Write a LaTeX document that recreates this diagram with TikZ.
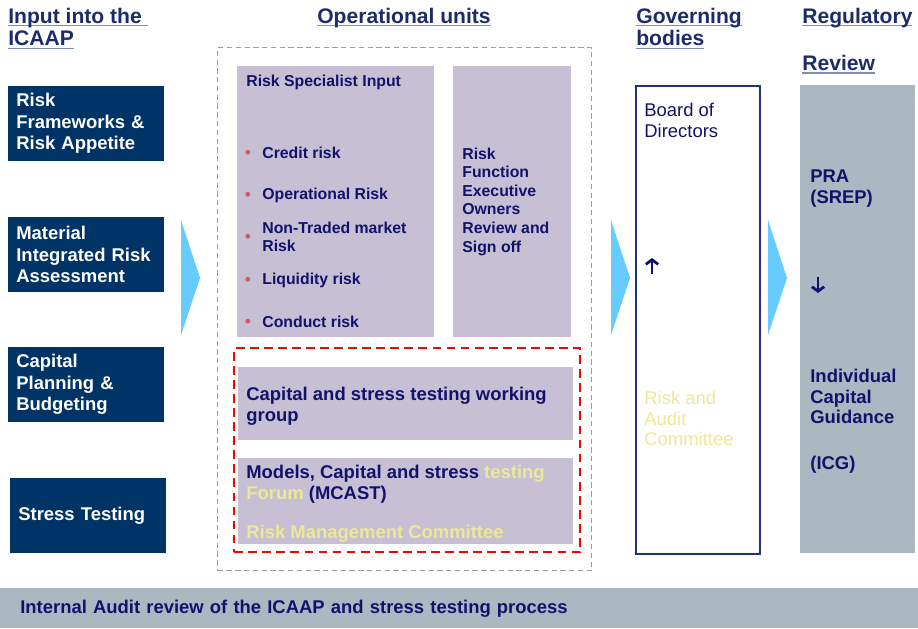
\documentclass[tikz,border=0pt]{standalone}
\usepackage{fontspec}
\setmainfont{Liberation Sans}
\usetikzlibrary{arrows.meta,positioning}
\definecolor{boxnavy}{HTML}{003366}
\definecolor{inknavy}{HTML}{12126C}
\definecolor{hdrnavy}{HTML}{1C2B6A}
\definecolor{hdrline}{HTML}{7F8DB3}
\definecolor{lilac}{HTML}{C7C0D4}
\definecolor{chevblue}{HTML}{66CCFF}
\definecolor{slategrey}{HTML}{ABB7C1}
\definecolor{paleyellow}{HTML}{EEE796}
\definecolor{dotred}{HTML}{D05A5A}
\definecolor{framegrey}{HTML}{A5999C}
\definecolor{govline}{HTML}{1F3575}
\newlength\hdrw
\newcommand\hdrul[1]{\settowidth\hdrw{#1}\rlap{\color{hdrline}\rule[-1.9pt]{\hdrw}{0.9pt}}#1}

\begin{document}
\begin{tikzpicture}[x=0.02cm,y=-0.02cm,
 hdr/.style={anchor=north west,inner sep=0pt,font=\fontsize{12}{13}\selectfont\bfseries,text=hdrnavy,align=left},
 inp/.style={anchor=north west,fill=boxnavy,text=white,font=\fontsize{10.5}{12.2}\selectfont\bfseries,minimum height=1.49cm,text width=2.8cm,inner xsep=0.16cm,inner ysep=0pt,align=left},
 unit/.style={anchor=north west,fill=lilac,inner sep=0pt},
 txt/.style={anchor=north west,inner sep=0pt,text=inknavy,font=\fontsize{9}{10.6}\selectfont\bfseries,align=left},
 big/.style={font=\fontsize{10.5}{11.9}\selectfont\bfseries},
 dot/.style={inner sep=0pt,text=dotred,font=\fontsize{10}{10}\selectfont},
 arw/.style={inknavy,line width=1.6pt,-{Straight Barb[length=2.6pt,width=7pt]}}]
\useasboundingbox (0,0) rectangle (918,628);
\node[hdr] (h1) at (8,7.4) {\hdrul{Input into the }\\\hdrul{ICAAP}};
\node[hdr,anchor=north] (h2) at (404,7.4) {\hdrul{Operational units}};
\node[hdr] (h3) at (636,7.4) {\hdrul{Governing}\\\hdrul{bodies}};
\node[hdr] (h4) at (802,7.4) {\hdrul{Regulatory}\\[14pt]\hdrul{Review}};
\node[inp] (rf) at (8,86) {Risk\\Frameworks \&\\Risk Appetite};
\node[inp] (mira) at (8,217) {Material\\Integrated Risk\\Assessment};
\node[inp] (cpb) at (8,347) {Capital\\Planning \&\\Budgeting};
\node[inp] (st) at (10,478) {Stress Testing};
\foreach \cx in {181,611,768} {\fill[chevblue] (\cx,220) -- (\cx+19,278) -- (\cx,335) -- cycle;}
\node[anchor=north west,draw=framegrey,dash pattern=on 3pt off 2pt,line width=0.8pt,minimum width=7.48cm,minimum height=10.46cm,inner sep=0pt] (ops) at (217,47) {};
\node[unit,minimum width=3.94cm,minimum height=5.42cm] (rsi) at (237,66) {};
\node[unit,minimum width=2.36cm,minimum height=5.42cm] (rfo) at (453,66) {};
\node[anchor=north west,draw=red,dash pattern=on 5pt off 3pt,line width=1.4pt,minimum width=6.92cm,minimum height=4.08cm,inner sep=0pt] (cst) at (233,347) {};
\node[unit,minimum width=6.7cm,minimum height=1.46cm] (wg) at (238,367) {};
\node[unit,minimum width=6.7cm,minimum height=1.72cm] (mc) at (238,458) {};
\node[anchor=north west,draw=govline,line width=1.2pt,minimum width=2.48cm,minimum height=9.36cm,inner sep=0pt] (gov) at (635,85) {};
\node[anchor=north west,fill=slategrey,minimum width=2.3cm,minimum height=9.36cm,inner sep=0pt] (reg) at (800,85) {};
\node[anchor=north west,fill=slategrey,minimum height=0.8cm,text width=17.94cm,inner xsep=0.4cm,inner ysep=0pt,align=left,text=inknavy,font=\fontsize{10.5}{12}\selectfont\bfseries] (ia) at (0,588) {Internal Audit review of the ICAAP and stress testing process};
\node[txt] (rsit) at (246,74.3) {Risk Specialist Input};
\foreach \yy/\lbl [count=\i] in {153/Credit risk,195/Operational Risk,237/{Non-Traded market\\Risk},280/Liquidity risk,322/Conduct risk} {
 \node[dot] (d\i) at (248,\yy+1.5) {\textbullet};
 \node[txt,anchor=west] (r\i) at (262,\yy) {\lbl};
}
\node[txt] (rfot) at (462,147.3) {Risk\\Function\\Executive\\Owners\\Review and\\Sign off};
\node[txt,big] (wgt) at (246,386.4) {Capital and stress testing working\\group};
\node[txt,big] (mct) at (246,464.4) {Models, Capital and stress \textcolor{paleyellow}{testing}\\\textcolor{paleyellow}{Forum} (MCAST)\\[10.5pt]\textcolor{paleyellow}{Risk Management Committee}};
\node[txt,font=\fontsize{10.5}{12.2}\selectfont] (bod) at (644,102.4) {Board of\\Directors};
\coordinate (upfoot) at (652,274);
\coordinate (uptip) at (652,258);
\draw[arw] (upfoot) -- (uptip);
\node[txt,font=\fontsize{10.5}{11.9}\selectfont,text=paleyellow] (rac) at (644,390.4) {Risk and\\Audit\\Committee};
\node[txt,big] (pra) at (810,169.4) {PRA\\(SREP)};
\coordinate (dnfoot) at (818,277);
\coordinate (dntip) at (818,293);
\draw[arw] (dnfoot) -- (dntip);
\node[txt,big] (icg) at (810,368.4) {Individual\\Capital\\Guidance\\[14pt](ICG)};
\end{tikzpicture}
\end{document}
